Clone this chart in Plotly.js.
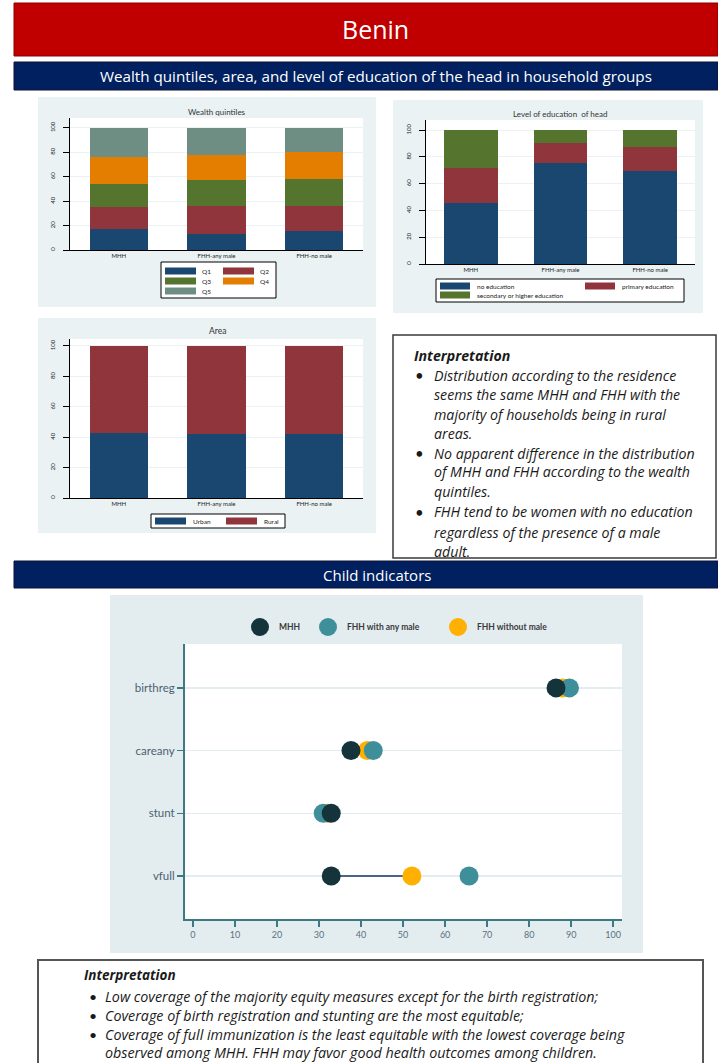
<!DOCTYPE html>
<html>
<head>
<meta charset="utf-8">
<script src="https://cdn.plot.ly/plotly-3.0.1.min.js"></script>
<style>
html,body{margin:0;padding:0;background:#fff;}
#chart{width:718px;height:1063px;}
</style>
</head>
<body>
<div id="chart"></div>
<script>
// ---------- DATA ----------
const groups = ['MHH', 'FHH-any male', 'FHH-no male'];

const wealthNames = ['Q1', 'Q2', 'Q3', 'Q4', 'Q5'];
const q1 = [17.0, 12.9, 15.7];
const q2 = [18.4, 23.4, 20.6];
const q3 = [18.7, 20.6, 21.4];
const q4 = [22.0, 21.1, 22.5];
const q5 = [23.9, 22.0, 19.8];

const eduNames = ['no education', 'primary education', 'secondary or higher education'];
const noEdu = [45.4, 75.7, 69.5];
const primaryEdu = [26.1, 14.4, 17.6];
const secondaryEdu = [28.5, 9.9, 12.9];

const areaNames = ['Urban', 'Rural'];
const urban = [42.9, 42.0, 42.0];
const rural = [57.1, 58.0, 58.0];

const indicators = ['birthreg', 'careany', 'stunt', 'vfull'];
const seriesNames = ['MHH', 'FHH with any male', 'FHH without male'];
const mhh = [86.4, 37.6, 32.9, 32.9];
const fhhAny = [89.6, 42.9, 31.0, 65.7];
const fhhNo = [88.0, 41.5, 32.0, 52.1];

const yTicks = [0, 20, 40, 60, 80, 100];
const xTicks = [0, 10, 20, 30, 40, 50, 60, 70, 80, 90, 100];

// ---------- STYLE ----------
const W = 718, H = 1063;
const X = p => p / W;
const Y = p => 1 - p / H;
const FONT = "Lato, 'Open Sans', sans-serif";
const BOXFONT = "'Open Sans', Lato, sans-serif";
const qCols = ['#1a476f', '#90353b', '#55752f', '#e37e00', '#6e8e84'];
const eduCols = ['#1a476f', '#90353b', '#55752f'];
const areaCols = ['#1a476f', '#90353b'];
const dotCols = ['#15333a', '#3f8f9b', '#ffb000'];

const traces = [];
const wealthVals = [q1, q2, q3, q4, q5];
wealthVals.forEach((v, i) => traces.push({
  type: 'bar', x: groups, y: v, name: wealthNames[i], marker: {color: qCols[i]},
  xaxis: 'x', yaxis: 'y', hoverinfo: 'none'
}));
[noEdu, primaryEdu, secondaryEdu].forEach((v, i) => traces.push({
  type: 'bar', x: groups, y: v, name: eduNames[i], marker: {color: eduCols[i]},
  xaxis: 'x2', yaxis: 'y2', hoverinfo: 'none'
}));
[urban, rural].forEach((v, i) => traces.push({
  type: 'bar', x: groups, y: v, name: areaNames[i], marker: {color: areaCols[i]},
  xaxis: 'x3', yaxis: 'y3', hoverinfo: 'none'
}));

// dumbbell segments MHH -> FHH without male
const segX = [], segY = [];
indicators.forEach((c, i) => { segX.push(mhh[i], fhhNo[i], null); segY.push(c, c, null); });
traces.push({type: 'scatter', mode: 'lines', x: segX, y: segY, line: {color: '#4a6686', width: 2},
  xaxis: 'x4', yaxis: 'y4', hoverinfo: 'none'});
traces.push({type: 'scatter', mode: 'markers', x: fhhNo, y: indicators, name: seriesNames[2],
  marker: {color: dotCols[2], size: 19}, xaxis: 'x4', yaxis: 'y4', hoverinfo: 'none'});
traces.push({type: 'scatter', mode: 'markers', x: fhhAny, y: indicators, name: seriesNames[1],
  marker: {color: dotCols[1], size: 19}, xaxis: 'x4', yaxis: 'y4', hoverinfo: 'none'});
traces.push({type: 'scatter', mode: 'markers', x: mhh, y: indicators, name: seriesNames[0],
  marker: {color: dotCols[0], size: 19}, xaxis: 'x4', yaxis: 'y4', hoverinfo: 'none'});

// ---------- AXES ----------
function barX(d) {
  return {domain: d, type: 'category', range: [-0.5, 2.5], showline: true, linecolor: '#000', linewidth: 1,
    ticks: '', tickfont: {family: FONT, size: 6, color: '#222'}, fixedrange: true, zeroline: false, showgrid: false};
}
function barY(d, top) {
  return {domain: d, range: [0, top], tickvals: yTicks, ticktext: yTicks.map(String), tickangle: -90,
    showline: true, linecolor: '#000', linewidth: 1, ticks: 'outside', ticklen: 6, tickcolor: '#000',
    ticklabelstandoff: 6,
    tickfont: {family: FONT, size: 6, color: '#222'}, showgrid: true, gridcolor: '#eaf2f3', gridwidth: 1,
    zeroline: false, fixedrange: true};
}

// ---------- SHAPES ----------
const shapes = [];
function rect(x0, y0, x1, y1, fill, line, lw) {
  shapes.push({type: 'rect', xref: 'paper', yref: 'paper', x0: X(x0), x1: X(x1), y0: Y(y1), y1: Y(y0),
    fillcolor: fill, line: {color: line || 'rgba(0,0,0,0)', width: lw || 0}, layer: 'below'});
}
function circ(cx, cy, r, fill) {
  shapes.push({type: 'circle', xref: 'paper', yref: 'paper', x0: X(cx - r), x1: X(cx + r), y0: Y(cy + r), y1: Y(cy - r),
    fillcolor: fill, line: {width: 0}, layer: 'above'});
}
rect(14, 3, 718, 56, '#c00000', '#8a0000', 1);
rect(14, 62, 718, 90, '#002060', '#101030', 1);
rect(38, 97, 376, 307, '#eaf2f3');
rect(70, 118, 363, 250, '#ffffff');
rect(393, 100, 703, 313, '#eaf2f3');
rect(426, 120, 695, 264, '#ffffff');
rect(38, 318, 376, 533, '#eaf2f3');
rect(70, 339, 363, 498, '#ffffff');
rect(393, 335, 716, 558, '#ffffff', '#3a3a3a', 1.5);
rect(14, 561, 718, 588, '#002060', '#101030', 1);
rect(110, 595, 643, 953, '#e3edf0');
rect(185, 644, 622, 919, '#ffffff');
rect(38, 960, 703, 1080, '#ffffff', '#555555', 2);

// legend boxes (bar charts)
const ann = [];
function txt(x, y, text, size, opts) {
  opts = opts || {};
  ann.push({xref: 'paper', yref: 'paper', x: X(x), y: Y(y), text: text, showarrow: false,
    xanchor: opts.anchor || 'left', yanchor: 'middle',
    font: {family: opts.family || FONT, size: size, color: opts.color || '#1a1a1a'}});
}
function legRect(x0, y0, x1, y1) {
  shapes.push({type: 'rect', xref: 'paper', yref: 'paper', x0: X(x0), x1: X(x1), y0: Y(y1), y1: Y(y0),
    fillcolor: '#ffffff', line: {color: '#000', width: 1}, layer: 'above'});
}
function swatch(x0, yc, w, h, col) {
  shapes.push({type: 'rect', xref: 'paper', yref: 'paper', x0: X(x0), x1: X(x0 + w), y0: Y(yc + h / 2), y1: Y(yc - h / 2),
    fillcolor: col, line: {width: 0}, layer: 'above'});
}
// wealth legend
legRect(161, 262, 276, 298);
const wPos = [[165, 271], [223, 271], [165, 281], [223, 281], [165, 291]];
wealthNames.forEach((n, i) => { swatch(wPos[i][0], wPos[i][1], 31, 7, qCols[i]); txt(wPos[i][0] + 35, wPos[i][1], n, 6.5); });
// education legend
legRect(436, 279, 684, 302);
const ePos = [[440, 286], [585, 286], [440, 295]];
eduNames.forEach((n, i) => { swatch(ePos[i][0], ePos[i][1], 30, 7, eduCols[i]); txt(ePos[i][0] + 35, ePos[i][1], n, 6.5); });
// area legend
legRect(151, 514, 285, 528);
const aPos = [[155, 521], [226, 521]];
areaNames.forEach((n, i) => { swatch(aPos[i][0], aPos[i][1], 31, 7, areaCols[i]); txt(aPos[i][0] + 36, aPos[i][1], n, 6.5); });
// dot legend
const dPos = [[260, 627], [328, 627], [458, 627]];
seriesNames.forEach((n, i) => { circ(dPos[i][0], dPos[i][1], 9, dotCols[i]); txt(dPos[i][0] + 17, dPos[i][1], '<b>' + n + '</b>', 8.5, {color: '#3a3a3a'}); });

// ---------- TEXT ----------
txt(375, 29, 'Benin', 25, {anchor: 'center', color: '#ffffff', family: BOXFONT});
txt(376, 76, 'Wealth quintiles, area, and level of education of the head in household groups', 15.2, {anchor: 'center', color: '#ffffff', family: BOXFONT});
txt(377, 575, 'Child indicators', 15, {anchor: 'center', color: '#ffffff', family: BOXFONT});
txt(217, 112, 'Wealth quintiles', 8, {anchor: 'center', color: '#333'});
txt(560, 114, 'Level of education  of head', 8, {anchor: 'center', color: '#333'});
txt(217, 331, 'Area', 8.5, {anchor: 'center', color: '#333'});

const box1 = [
  [412, 355, '<b><i>Interpretation</i></b>'],
  [432, 375, '<i>Distribution according to the residence</i>', true],
  [432, 395, '<i>seems the same MHH and FHH with the</i>'],
  [432, 414, '<i>majority of households being in rural</i>'],
  [432, 433, '<i>areas.</i>'],
  [432, 453, '<i>No apparent difference in the distribution</i>', true],
  [432, 472, '<i>of MHH and FHH according to the wealth</i>'],
  [432, 492, '<i>quintiles.</i>'],
  [432, 512, '<i>FHH tend to be women with no education</i>', true],
  [432, 532, '<i>regardless of the presence of a male</i>'],
  [432, 551, '<i>adult.</i>']
];
box1.forEach(l => { txt(l[0], l[1], l[2], 14.2, {family: BOXFONT}); if (l[3]) txt(413, l[1], '•', 15, {family: FONT}); });

const box2 = [
  [82, 975, '<b><i>Interpretation</i></b>'],
  [103, 996, '<i>Low coverage of the majority equity measures except for the birth registration;</i>', true],
  [103, 1015, '<i>Coverage of birth registration and stunting are the most equitable;</i>', true],
  [103, 1034, '<i>Coverage of full immunization is the least equitable with the lowest coverage being</i>', true],
  [103, 1052, '<i>observed among MHH. FHH may favor good health outcomes among children.</i>']
];
box2.forEach((l, i) => { txt(l[0], l[1], l[2], i === 0 ? 13.5 : 14.3, {family: BOXFONT}); if (l[3]) txt(87, l[1], '•', 14, {family: FONT}); });

// ---------- LAYOUT ----------
const axisTeal = '#3b7a85';
const layout = {
  width: W, height: H, margin: {l: 0, r: 0, t: 0, b: 0},
  paper_bgcolor: '#ffffff', plot_bgcolor: 'rgba(0,0,0,0)',
  showlegend: false, barmode: 'stack', bargap: 0.4,
  font: {family: FONT},
  xaxis: barX([X(70), X(363)]),
  yaxis: barY([Y(250), Y(118)], 108),
  xaxis2: Object.assign(barX([X(426), X(695)]), {anchor: 'y2'}),
  yaxis2: Object.assign(barY([Y(264), Y(120)], 107.5), {anchor: 'x2'}),
  xaxis3: Object.assign(barX([X(70), X(363)]), {anchor: 'y3'}),
  yaxis3: Object.assign(barY([Y(498), Y(339)], 104.6), {anchor: 'x3'}),
  xaxis4: {domain: [X(185), X(622)], anchor: 'y4', range: [-1.9, 102.1], tickvals: xTicks,
    showline: true, linecolor: axisTeal, linewidth: 2, ticks: 'outside', ticklen: 6, tickcolor: axisTeal, tickwidth: 1.5,
    tickfont: {family: FONT, size: 9, color: '#5b7080'}, showgrid: false, zeroline: false, fixedrange: true},
  yaxis4: {domain: [Y(919), Y(644)], anchor: 'x4', type: 'category', categoryarray: indicators.slice().reverse(),
    range: [-0.686, 3.70], showline: true, linecolor: axisTeal, linewidth: 2, ticks: 'outside', ticklen: 6,
    tickcolor: axisTeal, tickwidth: 1.5, tickfont: {family: FONT, size: 11.5, color: '#4d6070'},
    showgrid: true, gridcolor: '#e2ecf1', gridwidth: 1.5, zeroline: false, fixedrange: true},
  shapes: shapes,
  annotations: ann
};

Plotly.newPlot('chart', traces, layout, {displayModeBar: false, staticPlot: true});
</script>
</body>
</html>
